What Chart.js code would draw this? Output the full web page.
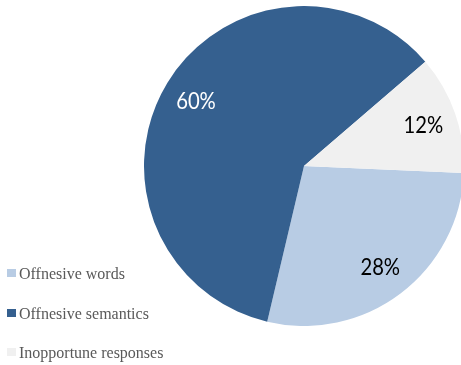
<!DOCTYPE html>
<html>
<head>
<meta charset="utf-8">
<script src="https://cdn.jsdelivr.net/npm/chart.js@4/dist/chart.umd.min.js"></script>
<style>
  html, body { margin: 0; padding: 0; background: #fff; overflow: hidden; }
  body { width: 461px; height: 365px; position: relative; }
  #pieWrap { position: absolute; left: 144px; top: 6px; width: 320px; height: 320px; }
  #legend { position: absolute; left: 7px; top: 264px; font-family: "Liberation Serif", "Times New Roman", serif; font-size: 16px; line-height: 19px; color: #595959; }
  #legend div { height: 39.5px; display: flex; align-items: flex-start; }
  #legend span.box { width: 9px; height: 8px; margin: 5px 3px 0 0; display: inline-block; }
</style>
</head>
<body>
<div id="pieWrap"><canvas id="pieChart"></canvas></div>
<div id="legend"></div>
<script>
// pie of response categories
const categories = ['Offnesive words', 'Offnesive semantics', 'Inopportune responses'];
const shares = [28, 60, 12];
const sliceColors = ['#B8CCE4', '#35608F', '#F0F0F0'];
const labelColors = ['#000000', '#ffffff', '#000000'];

// percentage labels placed out toward the rim of each slice
const pctLabels = {
    id: 'pctLabels',
    afterDatasetsDraw(chart) {
        const ctx = chart.ctx;
        const meta = chart.getDatasetMeta(0);
        const squeeze = 0.88;
        ctx.save();
        ctx.font = '23px Lato, "Open Sans", sans-serif';
        ctx.textAlign = 'center';
        ctx.textBaseline = 'alphabetic';
        meta.data.forEach(function(arc, i) {
            const p = arc.getProps(['x', 'y', 'startAngle', 'endAngle', 'outerRadius'], true);
            const mid = (p.startAngle + p.endAngle) / 2;
            const r = p.outerRadius * 0.79;
            const tx = p.x + Math.cos(mid) * r;
            const ty = p.y + Math.sin(mid) * r + 8.3;
            ctx.save();
            ctx.translate(tx, ty);
            ctx.scale(squeeze, 1);
            ctx.fillStyle = labelColors[i];
            ctx.fillText(shares[i] + '%', 0, 0);
            ctx.restore();
        });
        ctx.restore();
    }
};

new Chart(document.getElementById('pieChart'), {
    type: 'pie',
    data: {
        labels: categories,
        datasets: [{
            data: shares,
            backgroundColor: sliceColors,
            borderWidth: 0
        }]
    },
    options: {
        responsive: true,
        maintainAspectRatio: false,
        animation: false,
        rotation: 92.5,
        layout: { padding: 0 },
        plugins: {
            legend: { display: false },
            tooltip: { enabled: false }
        }
    },
    plugins: [pctLabels]
});

// legend built from the same arrays
const legendEl = document.getElementById('legend');
categories.forEach(function(name, i) {
    const row = document.createElement('div');
    const box = document.createElement('span');
    box.className = 'box';
    box.style.background = sliceColors[i];
    row.appendChild(box);
    row.appendChild(document.createTextNode(name));
    legendEl.appendChild(row);
});
</script>
</body>
</html>
